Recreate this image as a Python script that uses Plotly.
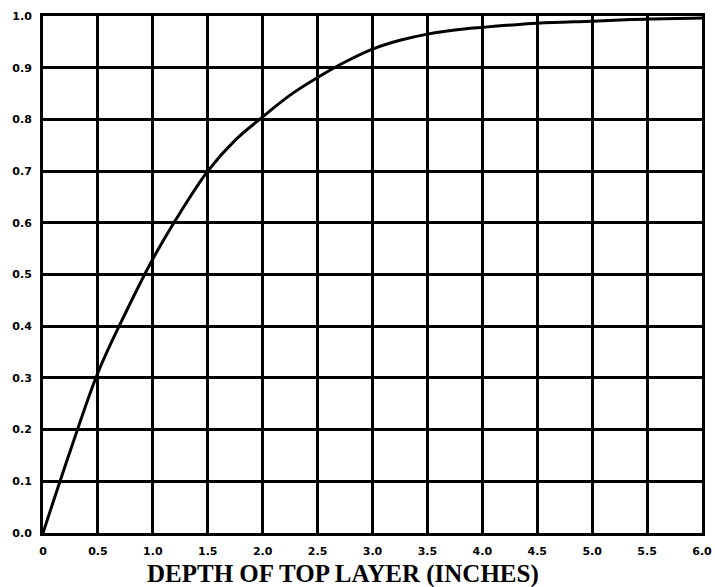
import plotly.graph_objects as go

# Curve
depth = [0, 0.25, 0.5, 0.75, 1.0, 1.25, 1.5, 1.75, 2.0, 2.25, 2.5, 2.75, 3.0, 3.25, 3.5, 3.75, 4.0, 4.5, 5.0, 5.5, 6.0]
fraction = [0, 0.16, 0.31, 0.425, 0.53, 0.62, 0.70, 0.76, 0.805, 0.847, 0.881, 0.911, 0.936, 0.953, 0.965, 0.973, 0.978, 0.986, 0.990, 0.994, 0.996]

x_tick_vals = [0, 0.5, 1.0, 1.5, 2.0, 2.5, 3.0, 3.5, 4.0, 4.5, 5.0, 5.5, 6.0]
x_tick_text = ["0", "0.5", "1.0", "1.5", "2.0", "2.5", "3.0", "3.5", "4.0", "4.5", "5.0", "5.5", "6.0"]
y_tick_vals = [0, 0.1, 0.2, 0.3, 0.4, 0.5, 0.6, 0.7, 0.8, 0.9, 1.0]
y_tick_text = ["0.0", "0.1", "0.2", "0.3", "0.4", "0.5", "0.6", "0.7", "0.8", "0.9", "1.0"]
x_title = "DEPTH OF TOP LAYER (INCHES)"

fig = go.Figure()
fig.add_trace(go.Scatter(
    x=depth, y=fraction, mode="lines",
    line=dict(color="black", width=3, shape="spline", smoothing=1.0),
    showlegend=False, hoverinfo="skip",
))

tickfont = dict(family="DejaVu Sans", size=11, color="black", weight="bold")

fig.update_layout(
    width=715, height=587,
    margin=dict(l=43, r=13, t=16, b=54),
    paper_bgcolor="white", plot_bgcolor="white",
    xaxis=dict(
        range=[0, 6], tickmode="array", tickvals=x_tick_vals, ticktext=x_tick_text,
        showgrid=True, gridcolor="black", gridwidth=3,
        showline=True, linecolor="black", linewidth=3, mirror=True,
        zeroline=False, ticks="", tickfont=tickfont, ticklabelstandoff=6,
        automargin=False,
    ),
    yaxis=dict(
        range=[0, 1.0], tickmode="array", tickvals=y_tick_vals, ticktext=y_tick_text,
        showgrid=True, gridcolor="black", gridwidth=3,
        showline=True, linecolor="black", linewidth=3, mirror=True,
        zeroline=False, ticks="", tickfont=tickfont, ticklabelstandoff=6,
        automargin=False,
    ),
    annotations=[dict(
        text=x_title, xref="paper", yref="paper", x=0.455, y=0,
        yshift=-41, xanchor="center", yanchor="middle", showarrow=False,
        font=dict(family="Liberation Serif", size=25, color="black", weight="bold"),
    )],
)

fig.write_html(
    "out.html",
    config={"displayModeBar": False},
    post_script="document.body.style.margin='0';document.body.style.overflow='hidden';",
)
